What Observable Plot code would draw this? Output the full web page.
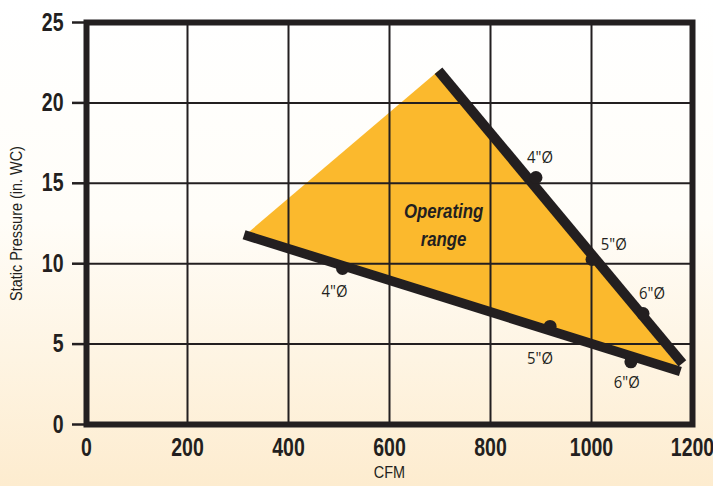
<!DOCTYPE html>
<html><head><meta charset="utf-8">
<script src="https://cdn.jsdelivr.net/npm/d3@7"></script>
<script src="https://cdn.jsdelivr.net/npm/@observablehq/plot@0.6"></script>
<style>
html,body{margin:0;padding:0;}
body{width:713px;height:486px;overflow:hidden;background:linear-gradient(to bottom,#ffffff 0%,#fffdf8 45%,#fdeccf 100%);}
#chart svg{display:block;background:transparent;font-family:"Liberation Sans",Arial,sans-serif;}
</style></head>
<body><div id="chart"></div>
<script>
// Operating range triangle vertices (CFM, in. WC)
const rangeCFM = [315, 697, 1175];
const rangeSP = [11.8, 22.0, 3.5];
// Upper boundary line
const upperCFM = [697, 1180];
const upperSP = [22.0, 3.8];
// Lower boundary line
const lowerCFM = [312, 1176];
const lowerSP = [11.8, 3.3];
// Duct size points
const ductLabels = ['4"Ø', '5"Ø', '6"Ø'];
const upperPtCFM = [890, 1001, 1102];
const upperPtSP = [15.36, 10.26, 6.9];
const lowerPtCFM = [507, 918, 1078];
const lowerPtSP = [9.7, 6.1, 3.9];
// Label anchor positions
const upperLblCFM = [898, 1044, 1120];
const upperLblSP = [16.6, 11.2, 8.15];
const lowerLblCFM = [491, 898, 1070];
const lowerLblSP = [8.27, 4.1, 2.6];
const xTicks = [0, 200, 400, 600, 800, 1000, 1200];
const yTicks = [0, 5, 10, 15, 20, 25];

const ink = "#231f20";
const tri = rangeCFM.map((x, i) => ({x, y: rangeSP[i]}));
const up = upperCFM.map((x, i) => ({x, y: upperSP[i]}));
const lo = lowerCFM.map((x, i) => ({x, y: lowerSP[i]}));
const pts = [
  ...upperPtCFM.map((x, i) => ({x, y: upperPtSP[i]})),
  ...lowerPtCFM.map((x, i) => ({x, y: lowerPtSP[i]}))
];
const lbls = [
  ...upperLblCFM.map((x, i) => ({x, y: upperLblSP[i], t: ductLabels[i]})),
  ...lowerLblCFM.map((x, i) => ({x, y: lowerLblSP[i], t: ductLabels[i]}))
];

const plot = Plot.plot({
  width: 713, height: 486,
  marginLeft: 86, marginRight: 21, marginTop: 22, marginBottom: 62,
  style: {background: "transparent", color: ink},
  x: {domain: [0, 1200]},
  y: {domain: [0, 25]},
  marks: [
    Plot.line(tri, {x: "x", y: "y", fill: "#fbb92d", stroke: "none"}),
    Plot.gridX(xTicks, {stroke: ink, strokeOpacity: 1, strokeWidth: 2}),
    Plot.gridY(yTicks, {stroke: ink, strokeOpacity: 1, strokeWidth: 2}),
    Plot.line(up, {x: "x", y: "y", stroke: ink, strokeWidth: 10, strokeLinecap: "butt"}),
    Plot.line(lo, {x: "x", y: "y", stroke: ink, strokeWidth: 9.5, strokeLinecap: "butt"}),
    Plot.dot(pts, {x: "x", y: "y", r: 6.5, fill: ink, stroke: "none"}),
    Plot.text(lbls, {x: "x", y: "y", text: "t", fontSize: 16.5, fill: ink, fontFamily: "Open Sans, sans-serif", className: "cond90"}),
    Plot.text(["Operating\nrange"], {x: 707, y: 12.5, fontSize: 21, fontWeight: "bold", fontStyle: "italic", lineHeight: 1.33, fill: ink, className: "cond80"}),
    Plot.axisY(yTicks, {tickSize: 14, tickPadding: 9, fontSize: 25, fontWeight: "bold", stroke: ink, strokeWidth: 2.5, label: null, tickFormat: d => String(d), className: "condY"}),
    Plot.axisX(xTicks, {tickSize: 0, tickPadding: 14, fontSize: 25, fontWeight: "bold", label: null, tickFormat: d => String(d), className: "condX"}),
    Plot.frame({stroke: ink, strokeWidth: 6}),
    Plot.text(["Static Pressure (in. WC)"], {frameAnchor: "left", textAnchor: "middle", dx: -70, rotate: -90, fontSize: 17, fill: ink, className: "cond85"}),
    Plot.text(["CFM"], {frameAnchor: "bottom", dy: 53, fontSize: 17, fill: ink, className: "cond85"})
  ]
});

// Condense text horizontally (simulating a condensed typeface)
function condense(sel, s) {
  d3.select(plot).selectAll(sel).each(function() {
    const el = d3.select(this);
    let t = el.attr("transform");
    if (!t) {
      const x = +el.attr("x") || 0, y = +el.attr("y") || 0;
      el.attr("x", null).attr("y", null);
      t = `translate(${x},${y})`;
    }
    el.attr("transform", `${t} scale(${s},1)`);
  });
}
condense(".condY text", 0.78);
condense(".condX text", 0.78);
condense(".cond80 text", 0.8);
condense(".cond85 text", 0.85);
condense(".cond90 text", 0.9);
document.getElementById("chart").appendChild(plot);
</script>
</body></html>
